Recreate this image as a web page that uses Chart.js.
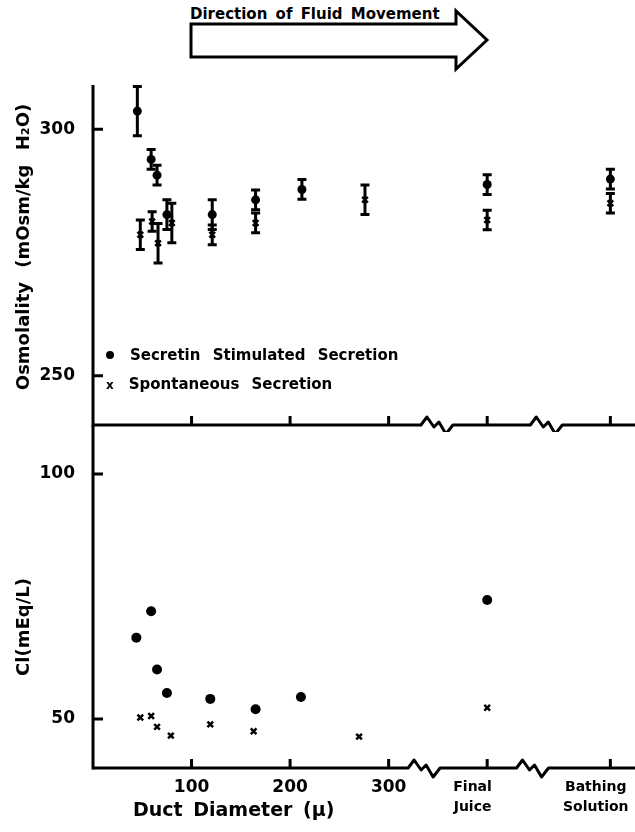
<!DOCTYPE html>
<html>
<head>
<meta charset="utf-8">
<script src="https://cdn.jsdelivr.net/npm/chart.js@4/dist/chart.umd.min.js"></script>
<style>
  body { margin: 0; background: #fff; }
  #wrap { position: relative; width: 635px; height: 832px; overflow: hidden; font-family: "DejaVu Sans", sans-serif; font-weight: bold; color: #000; }
  canvas { position: absolute; left: 0; }
  .txt { position: absolute; white-space: nowrap; }
  .rot { transform: translate(-50%, -50%) rotate(-90deg); }
</style>
</head>
<body>
<div id="wrap">
  <div class="txt" style="left:190px; top:5px; font-size:15px; word-spacing:3px;">Direction of Fluid Movement</div>
  <svg width="635" height="80" style="position:absolute;left:0;top:0">
    <polygon points="191,24 456,24 456,11 487,40 456,69 456,57 191,57" fill="#fff" stroke="#000" stroke-width="3" stroke-linejoin="miter"/>
  </svg>
  <canvas id="osmChart" width="635" height="432" style="top:0"></canvas>
  <canvas id="clChart" width="635" height="417" style="top:415px"></canvas>
  <div id="legend"></div>
  <div class="txt rot" style="left:22px; top:247px; font-size:18px; word-spacing:8px;">Osmolality (mOsm/kg H₂O)</div>
  <div class="txt rot" style="left:22px; top:627px; font-size:18px;">Cl(mEq/L)</div>
  <div class="txt" style="left:133px; top:798px; font-size:19px; word-spacing:4px;">Duct Diameter (μ)</div>
</div>
<script>
// tick values and labels
const xTickValues = [100, 200, 300, 400, 525];
const xTickLabels = ['100', '200', '300', ['Final', 'Juice'], ['Bathing', 'Solution']];
const osmTicks = [250, 300];
const clTicks = [50, 100];

// osmolality (top panel), mean and error half-width
const osmSecretinX = [45, 59, 65, 75, 121, 165, 212, 400, 525];
const osmSecretinY = [303.7, 293.9, 290.7, 282.7, 282.7, 285.7, 287.8, 288.8, 289.9];
const osmSecretinErr = [5, 2, 2, 3, 3, 2, 2, 2, 2];
const osmSpontX = [48, 60, 66, 80, 121, 165, 276, 400, 525];
const osmSpontY = [278.6, 281.3, 276.9, 281, 278.6, 281, 285.7, 281.6, 285];
const osmSpontErr = [3, 2, 4, 4, 2, 2, 3, 2, 2];

// chloride (bottom panel)
const clSecretinX = [44, 59, 65, 75, 119, 165, 211, 400];
const clSecretinY = [66.6, 72, 60.1, 55.3, 54.1, 52, 54.5, 74.3];
const clSpontX = [48, 59, 65, 79, 119, 163, 270, 400];
const clSpontY = [50.3, 50.6, 48.4, 46.6, 48.9, 47.5, 46.4, 52.3];

const seriesNames = ['Secretin Stimulated Secretion', 'Spontaneous Secretion'];

const pts = (xs, ys) => xs.map((x, i) => ({ x: x, y: ys[i] }));
const digitFont = { family: 'DejaVu Sans', weight: 'bold', size: 17 };
const wordFont = { family: 'DejaVu Sans', weight: 'bold', size: 14, lineHeight: 1.45 };
// the word labels sit a little left of their tick in the original
const shiftLeft = s => s + '\u00a0\u00a0\u00a0\u00a0\u00a0\u00a0';

// axes with inward ticks, broken x axis and error bars
const framePlugin = {
  id: 'frame',
  beforeDatasetsDraw(chart) {
    const ctx = chart.ctx, xs = chart.scales.x, ys = chart.scales.y;
    ctx.save();
    ctx.strokeStyle = '#000';
    ctx.lineWidth = 3;
    chart.data.datasets.forEach(ds => {
      if (!ds.errors) return;
      ds.data.forEach((p, i) => {
        const x = xs.getPixelForValue(p.x);
        const y1 = ys.getPixelForValue(p.y + ds.errors[i]);
        const y2 = ys.getPixelForValue(p.y - ds.errors[i]);
        ctx.beginPath();
        ctx.moveTo(x, y1); ctx.lineTo(x, y2);
        ctx.moveTo(x - 4.5, y1); ctx.lineTo(x + 4.5, y1);
        ctx.moveTo(x - 4.5, y2); ctx.lineTo(x + 4.5, y2);
        ctx.stroke();
      });
    });
    ctx.restore();
  },
  afterDraw(chart, args, opts) {
    const ctx = chart.ctx, a = chart.chartArea, xs = chart.scales.x, ys = chart.scales.y;
    ctx.save();
    ctx.strokeStyle = '#000';
    ctx.lineWidth = 3;
    ctx.lineJoin = 'round';
    ctx.beginPath();
    ctx.moveTo(a.left, a.top);
    ctx.lineTo(a.left, a.bottom + 1.5);
    opts.yTicks.forEach(v => {
      const y = ys.getPixelForValue(v);
      ctx.moveTo(a.left, y); ctx.lineTo(a.left + 10, y);
    });
    ctx.stroke();

    const y0 = a.bottom;
    ctx.beginPath();
    ctx.moveTo(a.left, y0);
    opts.breaks.forEach(b => {
      const c = xs.getPixelForValue(b);
      ctx.lineTo(c - 16, y0);
      ctx.lineTo(c - 10, y0 - 8);
      ctx.lineTo(c - 3, y0 + 2);
      ctx.lineTo(c + 2, y0 - 3);
      ctx.lineTo(c + 9, y0 + 9);
      ctx.lineTo(c + 16, y0);
    });
    ctx.lineTo(a.right, y0);
    ctx.stroke();
    ctx.beginPath();
    opts.xTicks.forEach(v => {
      const x = xs.getPixelForValue(v);
      ctx.moveTo(x, y0); ctx.lineTo(x, y0 - 9);
    });
    ctx.stroke();
    ctx.restore();
  }
};

const fixedTicks = vals => scale => { scale.ticks = vals.map(v => ({ value: v })); };
const fitY = s => { s.width = 93; s.paddingTop = 0; s.paddingBottom = 0; };
const fitX = s => { s.height = 64; s.paddingLeft = 0; s.paddingRight = 0; };

Chart.defaults.animation = false;
Chart.defaults.events = [];

new Chart(document.getElementById('osmChart'), {
  type: 'scatter',
  data: {
    datasets: [{
      label: seriesNames[0],
      data: pts(osmSecretinX, osmSecretinY),
      errors: osmSecretinErr,
      pointStyle: 'circle', pointRadius: 4.5,
      backgroundColor: '#000', borderColor: '#000', borderWidth: 0
    }, {
      label: seriesNames[1],
      data: pts(osmSpontX, osmSpontY),
      errors: osmSpontErr,
      pointStyle: 'crossRot', pointRadius: 4,
      borderColor: '#000', borderWidth: 2.5
    }]
  },
  options: {
    responsive: false,
    devicePixelRatio: 1,
    layout: { autoPadding: false, padding: { top: 85, bottom: 7, left: 0, right: 0 } },
    plugins: {
      legend: { display: false },
      tooltip: { enabled: false },
      frame: { yTicks: osmTicks, xTicks: xTickValues, breaks: [349, 460] }
    },
    scales: {
      x: { type: 'linear', min: 0, max: 550, display: false },
      y: {
        min: 240, max: 309,
        afterFit: fitY,
        afterBuildTicks: fixedTicks(osmTicks),
        grid: { display: false },
        border: { display: false },
        ticks: { font: digitFont, color: '#000', padding: 10 }
      }
    }
  },
  plugins: [framePlugin]
});

new Chart(document.getElementById('clChart'), {
  type: 'scatter',
  data: {
    datasets: [{
      label: seriesNames[0],
      data: pts(clSecretinX, clSecretinY),
      pointStyle: 'circle', pointRadius: 5,
      backgroundColor: '#000', borderColor: '#000', borderWidth: 0
    }, {
      label: seriesNames[1],
      data: pts(clSpontX, clSpontY),
      pointStyle: 'crossRot', pointRadius: 4,
      borderColor: '#000', borderWidth: 2.5
    }]
  },
  options: {
    responsive: false,
    devicePixelRatio: 1,
    layout: { autoPadding: false, padding: { top: 10, bottom: 0, left: 0, right: 0 } },
    plugins: {
      legend: { display: false },
      tooltip: { enabled: false },
      frame: { yTicks: clTicks, xTicks: xTickValues, breaks: [336, 446] }
    },
    scales: {
      x: {
        type: 'linear', min: 0, max: 550,
        afterFit: fitX,
        afterBuildTicks: fixedTicks(xTickValues),
        grid: { display: false },
        border: { display: false },
        ticks: {
          color: '#000', padding: 1, maxRotation: 0, autoSkip: false,
          font: c => (c.tick && c.tick.value > 350 ? wordFont : digitFont),
          callback: v => {
            const lab = xTickLabels[xTickValues.indexOf(v)];
            return Array.isArray(lab) ? lab.map(shiftLeft) : lab;
          }
        }
      },
      y: {
        min: 40, max: 110,
        afterFit: fitY,
        afterBuildTicks: fixedTicks(clTicks),
        grid: { display: false },
        border: { display: false },
        ticks: { font: digitFont, color: '#000', padding: 10 }
      }
    }
  },
  plugins: [framePlugin]
});

// legend drawn as text inside the top panel
document.getElementById('legend').innerHTML =
  '<div class="txt" style="left:106px;top:346px;font-size:15px;"><span style="display:inline-block;width:8px;height:8px;border-radius:50%;background:#000;margin-right:16px;vertical-align:1px"></span><span style="word-spacing:7px">' + seriesNames[0] + '</span></div>' +
  '<div class="txt" style="left:106px;top:375px;font-size:15px;"><span style="font-size:12px;margin-right:15px;">x</span><span style="word-spacing:7px">' + seriesNames[1] + '</span></div>';
</script>
</body>
</html>
